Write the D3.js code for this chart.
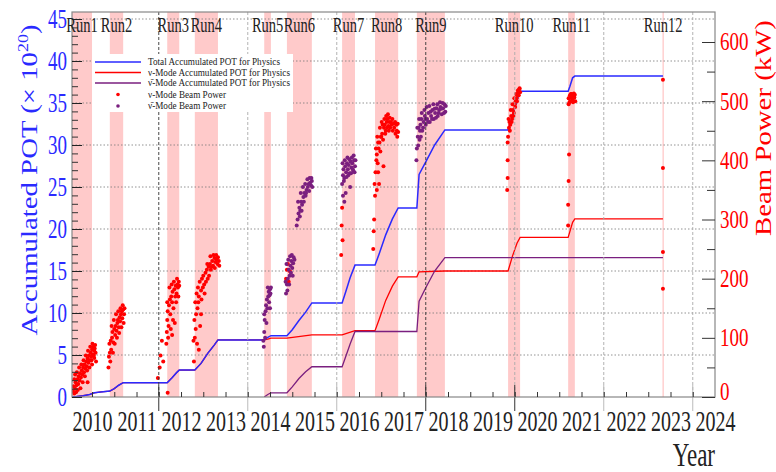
<html>
<head>
  <meta charset="utf-8">
  <script src="https://d3js.org/d3.v7.min.js"></script>
  <style>
    body { margin: 0; background: #fff; }
    text { font-family: "Liberation Serif", "Times New Roman", serif; }
  </style>
</head>
<body>
<script>
  var width = 776,
      height = 472;

  // run periods (fractional year) and labels
  var runNames = ["Run1","Run2","Run3","Run4","Run5","Run6","Run7","Run8","Run9","Run10","Run11","Run12"];
  var runStart = [2010.05, 2010.90, 2012.19, 2012.81, 2014.37, 2014.88, 2016.12, 2016.86, 2017.80, 2019.85, 2021.20, 2023.32];
  var runEnd   = [2010.50, 2011.20, 2012.46, 2013.33, 2014.52, 2015.44, 2016.41, 2017.38, 2018.43, 2020.12, 2021.35, 2023.35];

  var yearLabels = [2010,2011,2012,2013,2014,2015,2016,2017,2018,2019,2020,2021,2022,2023,2024];
  var potTicks = [0,5,10,15,20,25,30,35,40,45];
  var powerTicks = [0,100,200,300,400,500,600];

  // accumulated POT (x 10^20)
  var totalPOT = [[2010.05,0],[2010.15,0.05],[2010.30,0.15],[2010.45,0.3],[2010.55,0.5],[2010.70,0.6],[2010.90,0.7],
    [2011.00,1.0],[2011.10,1.4],[2011.20,1.7],[2012.19,1.7],[2012.30,2.3],[2012.40,2.9],[2012.46,3.2],
    [2012.81,3.2],[2012.95,4.0],[2013.10,5.2],[2013.25,6.2],[2013.33,6.8],[2014.37,6.8],[2014.45,7.1],
    [2014.52,7.3],[2014.88,7.3],[2015.00,8.0],[2015.15,9.1],[2015.30,10.1],[2015.44,11.2],[2016.12,11.2],
    [2016.20,12.5],[2016.30,14.2],[2016.41,15.7],[2016.86,15.7],[2016.95,17.0],[2017.10,19.3],[2017.25,21.2],
    [2017.38,22.5],[2017.80,22.5],[2017.85,26.5],[2018.00,28.0],[2018.20,30.0],[2018.43,31.8],[2019.85,31.8],
    [2019.95,33.5],[2020.05,35.3],[2020.12,36.4],[2021.20,36.4],[2021.24,37.0],[2021.30,38.0],[2021.35,38.2],
    [2023.33,38.2]];
  var nuPOT = [[2010.05,0],[2010.15,0.05],[2010.30,0.15],[2010.45,0.3],[2010.55,0.5],[2010.70,0.6],[2010.90,0.7],
    [2011.00,1.0],[2011.10,1.4],[2011.20,1.7],[2012.19,1.7],[2012.30,2.3],[2012.40,2.9],[2012.46,3.2],
    [2012.81,3.2],[2012.95,4.0],[2013.10,5.2],[2013.25,6.2],[2013.33,6.8],[2014.37,6.8],[2014.45,6.9],
    [2014.52,7.0],[2014.88,7.0],[2015.44,7.4],[2016.12,7.4],[2016.41,7.9],[2016.86,7.9],[2016.95,9.2],
    [2017.10,11.5],[2017.25,13.2],[2017.38,14.3],[2017.80,14.3],[2017.85,14.9],[2018.43,15.0],[2019.85,15.0],
    [2019.95,16.8],[2020.05,18.3],[2020.12,19.0],[2021.20,19.0],[2021.30,20.8],[2021.35,21.2],[2023.33,21.2]];
  var nubarPOT = [[2014.37,0],[2014.45,0.3],[2014.52,0.5],[2014.88,0.5],[2015.00,1.2],[2015.15,2.2],[2015.30,3.0],
    [2015.44,3.6],[2016.12,3.6],[2016.20,4.8],[2016.30,6.3],[2016.41,7.8],[2017.80,7.8],[2017.85,11.4],
    [2018.00,13.0],[2018.20,15.0],[2018.43,16.6],[2023.33,16.6]];

  // beam power (kW), neutrino mode
  var nuPower = [
    // Run1
    [2010.07,10],[2010.08,18],[2010.10,6],[2010.12,14],[2010.13,25],[2010.15,20],[2010.17,30],[2010.18,12],
    [2010.20,35],[2010.22,28],[2010.23,40],[2010.25,33],[2010.27,45],[2010.28,38],[2010.30,50],[2010.32,42],
    [2010.33,55],[2010.35,48],[2010.37,60],[2010.38,52],[2010.40,65],[2010.42,58],[2010.43,70],[2010.45,62],
    [2010.47,75],[2010.48,68],[2010.50,80],[2010.52,72],[2010.53,85],[2010.55,78],[2010.57,88],[2010.55,66],
    [2010.50,55],[2010.40,25],
    [2010.10,30],[2010.12,38],[2010.14,8],[2010.16,42],[2010.19,22],[2010.21,50],[2010.24,15],[2010.26,55],
    [2010.29,25],[2010.31,62],[2010.34,35],[2010.36,70],[2010.39,45],[2010.41,78],[2010.44,50],[2010.46,85],
    [2010.49,62],[2010.51,90],[2010.54,70],[2010.56,82],[2010.58,75],[2010.59,60],
    // Run2
    [2010.88,68],[2010.90,75],[2010.92,95],[2010.93,80],[2010.95,100],[2010.96,110],[2010.98,92],[2011.00,115],
    [2011.02,105],[2011.03,120],[2011.05,112],[2011.07,125],[2011.08,130],[2011.10,118],[2011.12,135],
    [2011.13,128],[2011.15,140],[2011.17,145],[2011.18,133],[2011.20,148],[2011.22,140],
    [2010.87,50],[2010.89,90],[2010.91,60],[2010.94,120],[2010.97,75],[2010.99,130],[2011.01,90],[2011.04,140],
    [2011.06,100],[2011.09,145],[2011.11,108],[2011.14,150],[2011.16,118],[2011.19,155],[2011.21,125],[2011.23,150],
    // Run3
    [2011.98,32],[2012.04,70],[2012.07,95],[2012.20,7],[2012.18,110],[2012.19,130],[2012.20,145],[2012.22,120],
    [2012.23,155],[2012.25,165],[2012.26,140],[2012.28,170],[2012.30,160],[2012.31,178],[2012.33,150],
    [2012.35,182],[2012.37,170],[2012.38,188],[2012.40,175],[2012.42,190],[2012.43,185],[2012.45,195],
    [2012.30,105],[2012.36,125],
    [2012.17,90],[2012.19,160],[2012.21,100],[2012.24,185],[2012.27,115],[2012.29,190],[2012.32,130],
    [2012.34,195],[2012.39,160],[2012.41,200],[2012.44,170],[2012.46,188],[2012.02,50],[2012.10,60],
    // Run4
    [2012.78,95],[2012.80,130],[2012.82,160],[2012.83,115],[2012.85,175],[2012.87,150],[2012.88,185],
    [2012.90,170],[2012.92,195],[2012.95,180],[2012.97,200],[2013.00,205],[2013.02,190],[2013.05,210],
    [2013.08,215],[2013.10,200],[2013.12,220],[2013.15,225],[2013.17,215],[2013.20,230],[2013.22,222],
    [2013.25,235],[2013.27,228],[2013.30,232],[2013.32,225],[2013.35,230],[2012.90,80],[2012.95,140],
    [2012.79,60],[2012.81,100],[2012.84,140],[2012.86,90],[2012.89,160],[2012.93,120],[2012.96,165],
    [2012.99,185],[2013.03,175],[2013.06,195],[2013.09,225],[2013.13,205],[2013.16,238],[2013.19,220],
    [2013.23,240],[2013.26,218],[2013.29,240],[2013.33,236],[2013.36,222],
    // Run6, Run7
    [2014.86,200],[2014.88,215],[2014.90,225],[2014.92,195],[2014.95,212],
    [2016.10,240],[2016.11,290],[2016.12,320],[2016.13,265],
    // Run8
    [2016.82,250],[2016.84,300],[2016.86,340],[2016.87,380],[2016.89,400],[2016.90,410],[2016.92,395],
    [2016.94,420],[2016.96,430],[2016.98,415],[2017.00,440],[2017.02,445],[2017.04,435],[2017.06,455],
    [2017.08,460],[2017.10,450],[2017.12,465],[2017.14,470],[2017.16,458],[2017.18,465],[2017.20,455],
    [2017.23,460],[2017.26,450],[2017.29,455],[2017.32,445],[2017.35,450],[2017.38,448],[2016.95,360],
    [2017.05,390],
    [2016.83,280],[2016.85,360],[2016.88,420],[2016.91,440],[2016.93,430],[2016.97,455],[2016.99,440],
    [2017.01,465],[2017.03,460],[2017.07,470],[2017.09,445],[2017.11,475],[2017.13,455],[2017.15,478],
    [2017.17,450],[2017.19,472],[2017.22,465],[2017.25,470],[2017.28,462],[2017.31,465],[2017.34,460],
    [2017.37,462],[2017.36,440],[2016.90,350],[2016.93,380],
    // Run10
    [2019.83,350],[2019.84,400],[2019.85,440],[2019.87,455],[2019.88,465],[2019.90,460],[2019.92,475],
    [2019.94,470],[2019.96,485],[2019.98,480],[2020.00,495],[2020.02,500],[2020.04,505],[2020.06,510],
    [2020.08,515],[2020.10,520],[2020.12,515],
    [2019.84,430],[2019.86,470],[2019.89,450],[2019.91,485],[2019.93,465],[2019.95,495],[2019.97,475],
    [2019.99,505],[2020.01,490],[2020.03,512],[2020.05,500],[2020.07,518],[2020.09,510],[2020.11,522],
    [2019.84,370],
    // Run11
    [2021.20,290],[2021.20,325],[2021.21,365],[2021.22,410],[2021.21,495],[2021.22,505],[2021.24,510],
    [2021.25,500],[2021.27,508],[2021.28,512],[2021.30,503],[2021.32,510],[2021.34,506],[2021.36,500],
    [2021.21,505],[2021.23,498],[2021.26,512],[2021.29,507],[2021.31,498],[2021.33,513],[2021.35,511],
    // Run12
    [2023.33,536],[2023.33,387],[2023.33,245],[2023.33,183]];

  // beam power (kW), antineutrino mode
  var nubarPower = [
    // Run5
    [2014.36,85],[2014.37,110],[2014.38,130],[2014.40,145],[2014.41,155],[2014.43,165],[2014.44,150],
    [2014.46,170],[2014.47,178],[2014.49,172],[2014.50,182],[2014.51,175],
    [2014.35,95],[2014.37,140],[2014.39,100],[2014.42,125],[2014.45,185],[2014.48,160],[2014.50,150],[2014.52,185],
    // Run6
    [2014.86,175],[2014.88,190],[2014.90,200],[2014.92,215],[2014.94,205],[2014.96,222],[2014.98,230],
    [2015.00,218],[2015.02,226],[2015.05,232],[2015.12,300],[2015.14,310],[2015.16,320],[2015.18,315],
    [2015.20,330],[2015.22,325],[2015.25,338],[2015.27,345],[2015.30,340],[2015.32,350],[2015.35,355],
    [2015.38,348],[2015.40,362],[2015.42,358],[2015.44,365],
    [2014.85,195],[2014.87,225],[2014.89,180],[2014.91,232],[2014.93,190],[2014.95,238],[2014.97,210],
    [2014.99,240],[2015.01,205],[2015.03,236],[2015.10,290],[2015.13,330],[2015.17,305],[2015.19,345],
    [2015.21,315],[2015.24,355],[2015.26,330],[2015.29,360],[2015.31,345],[2015.34,368],[2015.37,360],
    [2015.39,370],[2015.43,370],[2015.45,355],
    // Run7
    [2016.12,360],[2016.14,375],[2016.15,385],[2016.17,370],[2016.19,390],[2016.21,380],[2016.23,395],
    [2016.25,385],[2016.27,392],[2016.29,378],[2016.31,398],[2016.33,388],[2016.35,395],[2016.37,382],
    [2016.39,400],[2016.41,390],[2016.20,345],[2016.30,355],
    [2016.13,395],[2016.16,365],[2016.18,400],[2016.22,372],[2016.24,405],[2016.26,375],[2016.28,402],
    [2016.32,378],[2016.34,405],[2016.36,385],[2016.38,408],[2016.40,380],[2016.42,400],[2016.14,340],
    [2016.17,330],
    // Run9
    [2017.80,420],[2017.82,440],[2017.84,455],[2017.86,435],[2017.88,460],[2017.90,470],[2017.92,450],
    [2017.95,465],[2017.98,475],[2018.00,460],[2018.03,470],[2018.06,480],[2018.09,465],[2018.12,475],
    [2018.15,485],[2018.18,470],[2018.21,480],[2018.24,488],[2018.27,475],[2018.30,485],[2018.33,490],
    [2018.36,478],[2018.39,488],[2018.42,495],[2018.44,482],
    [2017.79,400],[2017.81,455],[2017.83,425],[2017.85,470],[2017.87,450],[2017.89,440],[2017.91,480],
    [2017.94,455],[2017.97,485],[2017.99,470],[2018.02,490],[2018.05,465],[2018.08,492],[2018.11,482],
    [2018.14,470],[2018.17,495],[2018.20,487],[2018.23,472],[2018.26,495],[2018.29,480],[2018.32,498],
    [2018.35,487],[2018.38,497],[2018.41,480],[2018.45,492]];

  var legendLabels = ["Total Accumulated POT for Physics", "\u03bd-Mode Accumulated POT for Physics",
    "\u03bd\u0304-Mode Accumulated POT for Physics", "\u03bd-Mode Beam Power", "\u03bd\u0304-Mode Beam Power"];

  // plot frame (names avoid window.top)
  var pL = 72, pR = 715, pT = 12, pB = 397;
  var stretch = 1.45; // the original figure's text is tall and narrow
  var blue = "#2a2aff", red = "#ff0000", purple = "#7a1f7f", pink = "#ffcaca";

  var x = d3.scaleLinear().domain([2010.05, 2024.5]).range([pL, pR]);
  var yL = d3.scaleLinear().domain([0, 45]).range([pB, 19]);
  var yR = d3.scaleLinear().domain([0, 600]).range([pB, 42]);

  var svg = d3.select("body").append("svg")
      .attr("width", width)
      .attr("height", height);

  svg.append("clipPath").attr("id", "plotclip")
    .append("rect").attr("x", pL).attr("y", pT).attr("width", pR - pL).attr("height", pB - pT);

  var plot = svg.append("g").attr("clip-path", "url(#plotclip)");

  // run bands
  plot.selectAll(".band")
    .data(runNames)
    .enter().append("rect")
    .attr("x", function(d, i) { return x(runStart[i]); })
    .attr("y", pT)
    .attr("width", function(d, i) { return Math.max(1, x(runEnd[i]) - x(runStart[i])); })
    .attr("height", pB - pT)
    .attr("fill", pink);

  // horizontal dotted grid
  plot.selectAll(".hgrid")
    .data(potTicks.slice(1))
    .enter().append("line")
    .attr("x1", pL).attr("x2", pR)
    .attr("y1", function(d) { return yL(d); })
    .attr("y2", function(d) { return yL(d); })
    .attr("stroke", "#777").attr("stroke-width", 0.8).attr("stroke-dasharray", "1.5,2");

  // vertical grid every two years (extends below axis)
  var gridYears = [2012, 2014, 2016, 2018, 2020, 2022, 2024];
  svg.selectAll(".vgrid")
    .data(gridYears)
    .enter().append("line")
    .attr("x1", function(d) { return x(d); })
    .attr("x2", function(d) { return x(d); })
    .attr("y1", pT).attr("y2", pB)
    .attr("stroke", function(d) { return (d == 2012 || d == 2018) ? "#333" : "#aaa"; })
    .attr("stroke-width", 0.9).attr("stroke-dasharray", "3,2");
  svg.selectAll(".vtick")
    .data(gridYears)
    .enter().append("line")
    .attr("x1", function(d) { return x(d); })
    .attr("x2", function(d) { return x(d); })
    .attr("y1", pB - 12).attr("y2", pB + 14)
    .attr("stroke", function(d) { return (d == 2012 || d == 2018 || d == 2020) ? "#333" : "#bbb"; })
    .attr("stroke-width", 1);

  // POT lines
  var line = d3.line()
      .x(function(d) { return x(d[0]); })
      .y(function(d) { return yL(d[1]); });

  plot.append("path").datum(nuPOT).attr("d", line)
    .attr("fill", "none").attr("stroke", red).attr("stroke-width", 1.3);
  plot.append("path").datum(nubarPOT).attr("d", line)
    .attr("fill", "none").attr("stroke", purple).attr("stroke-width", 1.3);
  plot.append("path").datum(totalPOT).attr("d", line)
    .attr("fill", "none").attr("stroke", blue).attr("stroke-width", 1.5);

  // beam power points
  plot.selectAll(".nu")
    .data(nuPower)
    .enter().append("circle")
    .attr("cx", function(d) { return x(d[0]); })
    .attr("cy", function(d) { return yR(d[1]); })
    .attr("r", 2)
    .attr("fill", red);
  plot.selectAll(".nubar")
    .data(nubarPower)
    .enter().append("circle")
    .attr("cx", function(d) { return x(d[0]); })
    .attr("cy", function(d) { return yR(d[1]); })
    .attr("r", 2)
    .attr("fill", purple);

  // frame
  svg.append("rect")
    .attr("x", pL).attr("y", pT)
    .attr("width", pR - pL).attr("height", pB - pT)
    .attr("fill", "none").attr("stroke", "#888").attr("stroke-width", 1.2);

  function tallText(sel, s) {
    sel.attr("transform", "scale(1," + (s || stretch) + ")");
  }

  // left axis (ticks inside)
  svg.append("g")
    .attr("transform", "translate(" + pL + ",0)")
    .call(d3.axisLeft(yL).tickValues(d3.range(0, 46, 1)).tickSize(-6).tickFormat(""))
    .call(function(g) { g.select(".domain").remove(); g.selectAll("line").attr("stroke", "#333"); });
  svg.append("g")
    .attr("transform", "translate(" + pL + ",0)")
    .call(d3.axisLeft(yL).tickValues(potTicks).tickSize(-10).tickPadding(5))
    .call(function(g) {
      g.select(".domain").remove();
      g.selectAll("line").attr("stroke", "#222");
      g.selectAll("text").attr("fill", blue).style("font-size", "19px")
        .style("font-family", "Liberation Serif").call(tallText);
    });

  // right axis
  svg.append("g")
    .attr("transform", "translate(" + pR + ",0)")
    .call(d3.axisRight(yR).tickValues(d3.range(50, 650, 100)).tickSize(-8).tickFormat(""))
    .call(function(g) { g.select(".domain").remove(); g.selectAll("line").attr("stroke", "#333"); });
  svg.append("g")
    .attr("transform", "translate(" + pR + ",0)")
    .call(d3.axisRight(yR).tickValues(powerTicks).tickSize(-13).tickPadding(5))
    .call(function(g) {
      g.select(".domain").remove();
      g.selectAll("line").attr("stroke", "#333");
      g.selectAll("text").attr("fill", red).style("font-size", "19px")
        .style("font-family", "Liberation Serif").call(tallText, 1.3);
      // keep the zero clear of the year labels below
      g.selectAll(".tick").filter(function(d) { return d === 0; }).select("text").attr("dy", "0.1em");
    });

  // bottom axis: half-year ticks, labels under mid-year
  svg.append("g")
    .attr("transform", "translate(0," + pB + ")")
    .call(d3.axisBottom(x).tickValues(d3.range(2010.5, 2024.5, 0.5)).tickSize(-5).tickFormat(""))
    .call(function(g) { g.select(".domain").remove(); g.selectAll("line").attr("stroke", "#333"); });
  svg.append("g")
    .attr("transform", "translate(0," + pB + ")")
    .call(d3.axisBottom(x).tickValues(yearLabels.map(function(d) { return d + 0.5; }))
      .tickSize(0)
      .tickFormat(function(d) { return String(Math.floor(d)); }))
    .call(function(g) {
      g.select(".domain").remove();
      g.selectAll("text").attr("fill", "#222").style("font-size", "20px")
        .style("font-family", "Liberation Serif")
        .attr("dy", null).attr("y", 34 / stretch).call(tallText);
    });

  // run labels
  svg.selectAll(".runlabel")
    .data(runNames)
    .enter().append("text")
    .attr("transform", function(d, i) {
      return "translate(" + x((runStart[i] + runEnd[i]) / 2) + ",32) scale(1," + stretch + ")";
    })
    .attr("text-anchor", "middle")
    .attr("fill", "#222")
    .style("font-size", "14.5px")
    .text(function(d) { return d; });

  // legend
  var lg = svg.append("g");
  lg.append("rect").attr("x", 93).attr("y", 54).attr("width", 200).attr("height", 58).attr("fill", "#fff");
  var rowY = [62, 72.5, 83, 94.5, 106];
  var textLen = [132, 142, 142, 78, 78];
  var lgColor = [blue, red, purple, red, purple];
  lg.selectAll(".lgline")
    .data([0, 1, 2])
    .enter().append("line")
    .attr("x1", 95).attr("x2", 141)
    .attr("y1", function(d) { return rowY[d]; })
    .attr("y2", function(d) { return rowY[d]; })
    .attr("stroke", function(d) { return lgColor[d]; })
    .attr("stroke-width", 1.3);
  lg.selectAll(".lgdot")
    .data([3, 4])
    .enter().append("circle")
    .attr("cx", 118)
    .attr("cy", function(d) { return rowY[d]; })
    .attr("r", 1.8)
    .attr("fill", function(d) { return lgColor[d]; });
  lg.selectAll(".lgtext")
    .data(legendLabels)
    .enter().append("text")
    .attr("transform", function(d, i) { return "translate(148," + (rowY[i] + 3.2) + ") scale(1,1.2)"; })
    .attr("textLength", function(d, i) { return textLen[i]; })
    .attr("lengthAdjust", "spacingAndGlyphs")
    .attr("fill", "#222")
    .style("font-size", "9px")
    .text(function(d) { return d; });

  // axis titles (stretched along their length like the original)
  var lt = svg.append("text")
    .attr("transform", "translate(37,180) rotate(-90) scale(1.2,1)")
    .attr("text-anchor", "middle")
    .attr("fill", blue)
    .style("font-size", "24px");
  lt.append("tspan").text("Accumulated POT (\u00d7 10");
  lt.append("tspan").attr("dy", -9).style("font-size", "15px").text("20");
  lt.append("tspan").attr("dy", 9).text(")");

  svg.append("text")
    .attr("transform", "translate(771,128) rotate(-90) scale(1.2,1)")
    .attr("text-anchor", "middle")
    .attr("fill", red)
    .style("font-size", "24px")
    .text("Beam Power (kW)");

  svg.append("text")
    .attr("transform", "translate(715,466) scale(1," + stretch + ")")
    .attr("text-anchor", "end")
    .attr("fill", "#222")
    .style("font-size", "23px")
    .text("Year");
</script>
</body>
</html>
